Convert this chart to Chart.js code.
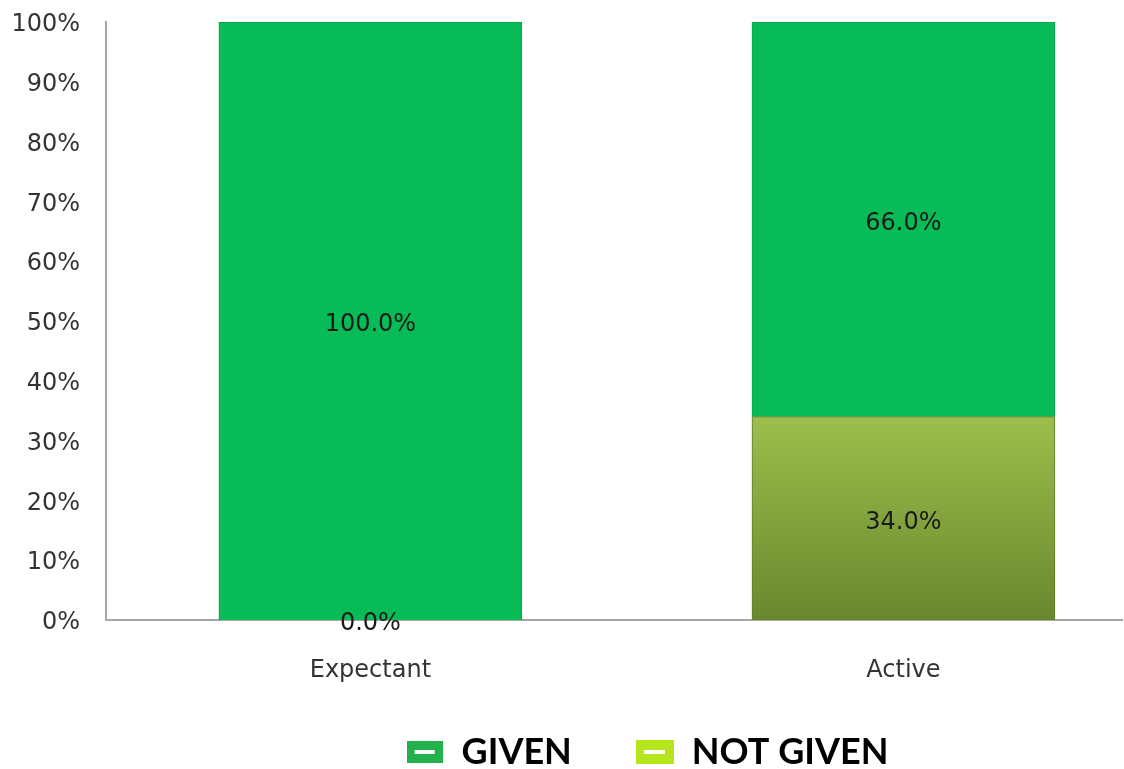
<!DOCTYPE html>
<html>
<head>
<meta charset="utf-8">
<script src="https://cdn.jsdelivr.net/npm/chart.js@4.4.1/dist/chart.umd.min.js"></script>
<style>
  html, body { margin: 0; padding: 0; background: #fff; overflow: hidden; }
  #wrap { width: 1124px; height: 769px; }
</style>
</head>
<body>
<div id="wrap"><canvas id="barChart" width="1124" height="769"></canvas></div>
<script>
// chart data
const categories = ['Expectant', 'Active'];
const givenValues = [100.0, 66.0];
const notGivenValues = [0.0, 34.0];
const yTicks = [0, 10, 20, 30, 40, 50, 60, 70, 80, 90, 100];

// small legend swatch with a white dash, like the original
function makeSwatch(color, w, h) {
    const c = document.createElement('canvas');
    c.width = w;
    c.height = h;
    const g = c.getContext('2d');
    g.fillStyle = color;
    g.fillRect(0, 0, w, h);
    g.fillStyle = '#ffffff';
    g.fillRect(Math.round(w * 0.22), Math.round(h / 2) - 2, Math.round(w * 0.56), 4);
    return c;
}

// gradient for the olive NOT GIVEN bar
function oliveGradient(context) {
    const chart = context.chart;
    const area = chart.chartArea;
    if (!area) return '#87a83f';
    const grad = chart.ctx.createLinearGradient(0, area.bottom, 0, area.top);
    grad.addColorStop(0, '#69882d');
    grad.addColorStop(0.34, '#9bbf4c');
    grad.addColorStop(1, '#9bbf4c');
    return grad;
}

// draws value labels in the middle of every bar segment
const valueLabels = {
    id: 'valueLabels',
    afterDatasetsDraw(chart) {
        const ctx = chart.ctx;
        ctx.save();
        ctx.font = '24px "DejaVu Sans"';
        ctx.fillStyle = '#1a1a1a';
        ctx.textAlign = 'center';
        ctx.textBaseline = 'middle';
        chart.data.datasets.forEach((ds, i) => {
            const meta = chart.getDatasetMeta(i);
            meta.data.forEach((bar, j) => {
                const val = ds.data[j].y;
                const props = bar.getProps(['x', 'y', 'base'], true);
                ctx.fillText(val.toFixed(1) + '%', props.x, (props.y + props.base) / 2 + 4);
            });
        });
        ctx.restore();
    }
};

// move the legend a bit right / up, the original is not centred on the canvas
const legendShift = {
    id: 'legendShift',
    afterLayout(chart) {
        const lg = chart.legend;
        lg.left += 81;
        lg.right += 81;
        lg.top -= 16;
    }
};

const ctx = document.getElementById('barChart').getContext('2d');

var myChart = new Chart(ctx, {
    type: 'bar',
    data: {
        labels: categories,
        datasets: [{
            label: 'NOT GIVEN',
            data: notGivenValues.map((v, i) => ({ x: i, y: v })),
            backgroundColor: oliveGradient,
            borderColor: '#5e7a28',
            borderWidth: 1,
            pointStyle: makeSwatch('#b5e61d', 38, 24)
        }, {
            label: 'GIVEN',
            data: givenValues.map((v, i) => ({ x: i, y: v })),
            backgroundColor: '#07bb56',
            borderColor: '#06a34a',
            borderWidth: 1,
            pointStyle: makeSwatch('#22b14c', 36, 22)
        }]
    },
    options: {
        responsive: false,
        animation: false,
        barThickness: 303,
        layout: { padding: { left: 10, right: 2, top: 0, bottom: 0 } },
        scales: {
            x: {
                type: 'linear',
                stacked: true,
                offset: false,
                min: -0.496,
                max: 1.41,
                afterFit: axis => { axis.height = 66; },
                grid: { display: false, drawTicks: false },
                border: { display: true, color: '#a6a6a6', width: 2 },
                ticks: {
                    stepSize: 1,
                    includeBounds: false,
                    padding: 36,
                    color: '#333',
                    font: { family: '"DejaVu Sans"', size: 24 },
                    callback: v => categories[v] !== undefined ? categories[v] : ''
                }
            },
            y: {
                stacked: true,
                min: 0,
                max: 100,
                afterBuildTicks: axis => { axis.ticks = yTicks.map(v => ({ value: v })); },
                afterFit: axis => { axis.width = 96; axis.paddingTop = 22; },
                grid: { display: false, drawTicks: false },
                border: { display: true, color: '#a6a6a6', width: 2 },
                ticks: {
                    padding: 26,
                    labelOffset: 3,
                    color: '#333',
                    font: { family: '"DejaVu Sans"', size: 24 },
                    callback: v => v + '%'
                }
            }
        },
        plugins: {
            tooltip: { enabled: false },
            legend: {
                position: 'bottom',
                reverse: true,
                maxHeight: 83,
                labels: {
                    usePointStyle: true,
                    pointStyleWidth: 38,
                    padding: 64,
                    color: '#000',
                    font: { family: 'Lato', size: 36, weight: 'bold' }
                }
            }
        }
    },
    plugins: [valueLabels, legendShift]
});
</script>
</body>
</html>
